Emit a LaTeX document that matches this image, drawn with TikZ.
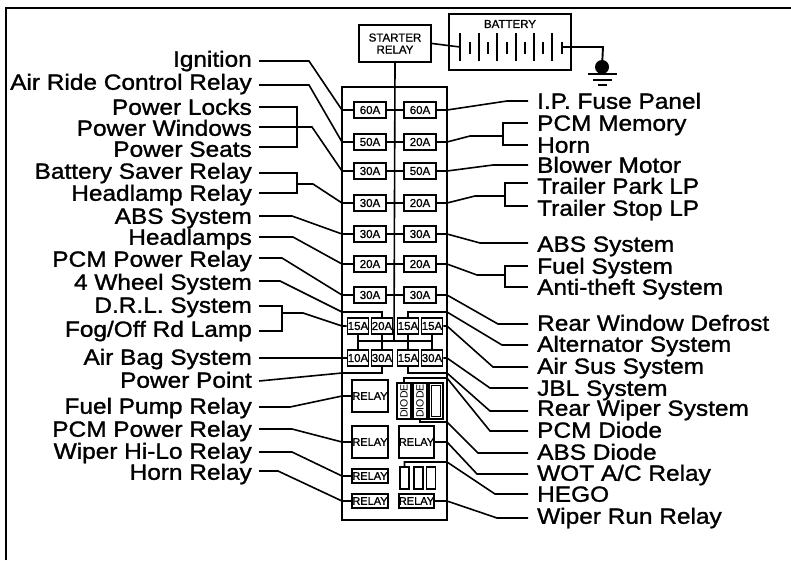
\documentclass[tikz,border=0pt]{standalone}
\usepackage{fontspec}
\setmainfont{Liberation Sans}
\newfontfamily\labelfont[FakeBold=1.3,FakeStretch=1.11]{Liberation Sans}
\newfontfamily\boxfont[FakeBold=1]{Liberation Sans}
\begin{document}
\begin{tikzpicture}[x=1pt,y=-1pt,line cap=butt,line join=miter,
	wire/.style={line width=1.6pt},
	boxline/.style={draw,line width=2.2pt,inner sep=0pt},
	llabel/.style={anchor=east,inner xsep=7pt,inner ysep=0pt,text height=17.5pt,text depth=4pt,font=\labelfont\fontsize{22}{24}\selectfont},
	rlabel/.style={anchor=west,inner xsep=9pt,inner ysep=0pt,text height=17.5pt,text depth=4pt,font=\labelfont\fontsize{22}{24}\selectfont},
	fuse/.style={boxline,minimum width=32pt,minimum height=16pt,font=\boxfont\fontsize{11.5}{12}\selectfont},
	minifuse/.style={boxline,line width=1.7pt,minimum width=21pt,minimum height=16pt,font=\boxfont\fontsize{11.5}{12}\selectfont},
	relay/.style={boxline,line width=1.5pt,font=\boxfont\fontsize{11}{12}\selectfont},
	diode/.style={boxline,line width=1.5pt,minimum width=14pt,minimum height=36pt},
	slot/.style={boxline,line width=1.5pt,minimum height=22pt}]
\useasboundingbox (0,0) rectangle (791,560);
% outer frame
\draw[line width=1.7pt] (6,560)--(6,8)--(791,8);
% battery side
\node[boxline,minimum width=72pt,minimum height=37pt,align=center,font=\boxfont\fontsize{11.5}{13}\selectfont] (starter) at (395,43.5) {STARTER\\[-1pt]RELAY};
\node[boxline,minimum width=122pt,minimum height=56pt] (battery) at (510,42) {};
\node[inner sep=0pt,font=\boxfont\fontsize{11.5}{13}\selectfont] (batterytext) at (510,24) {BATTERY};
\foreach\x in {460,479,497,516,534,552}{\draw[wire] (\x,33)--(\x,61);}
\foreach\x in {470,488,507,525,543,562}{\draw[wire] (\x,42)--(\x,54);}
\coordinate (cellA) at (460,47);
\coordinate (cellB) at (562,47);
\fill (602,67) coordinate (gnd) circle (7);
\draw[wire] (starter.east)--(cellA);
\draw[line width=1.9pt] (cellB)--(603,47)--(gnd);
\draw[wire] (588,74)--(617,74) (593,80)--(612,80) (598,85)--(607,85);
% fuse box
\node[boxline,minimum width=105pt,minimum height=433pt] (panel) at (394.5,303.5) {};
\draw[wire] (starter.south)--(394,341);
\foreach\i/\y/\a/\b in {1/110/60A/60A,2/142/50A/20A,3/171/30A/50A,4/203/30A/20A,5/234/30A/30A,6/264/20A/20A,7/295/30A/30A}{
	\node[fuse] (f\i l) at (370,\y) {\a};
	\node[fuse] (f\i r) at (420,\y) {\b};
	\draw[wire] (342,\y)--(f\i l.west) (f\i l.east)--(f\i r.west);
	\draw[wire] (f\i r.east)--(447,\y);
}
\foreach\n/\x/\y/\t in {ma/358/326/15A,mb/382/326/20A,mc/408/326/15A,md/432/326/15A,me/358/358/10A,mf/382/358/30A,mg/408/358/15A,mh/432/358/30A}{
	\node[minifuse] (\n) at (\x,\y) {\t};
}
\foreach\a/\b in {ma/me,mb/mf,mc/mg,md/mh}{\draw[wire] (\a.south)--(\b.north);}
\draw[wire] (ma.south |- 0,341)--(md.south |- 0,341);
% relays
\node[relay,minimum width=36pt,minimum height=32pt] (rela) at (370,396) {RELAY};
\node[relay,minimum width=36pt,minimum height=32pt] (relb) at (370,442) {RELAY};
\node[relay,minimum width=35pt,minimum height=32pt] (relc) at (416.5,442) {RELAY};
\node[relay,minimum width=36pt,minimum height=14pt] (reld) at (370,476) {RELAY};
\node[relay,minimum width=36pt,minimum height=14pt] (rele) at (370,501) {RELAY};
\node[relay,minimum width=35pt,minimum height=14pt] (relf) at (416.5,501) {RELAY};
\node[diode] (diodea) at (404,401) {};
\node[rotate=90,inner sep=0pt,font=\fontsize{10.5}{11}\selectfont] (diodeatext) at (404,401) {DIODE};
\node[diode] (diodeb) at (420,401) {};
\node[rotate=90,inner sep=0pt,font=\fontsize{10.5}{11}\selectfont] (diodebtext) at (420,401) {DIODE};
\node[diode] (spare) at (436,401) {};
\node[draw,line width=.5pt,inner sep=0pt,minimum width=9pt,minimum height=31pt] (spareinner) at (436,401) {};
\foreach\n/\x in {sa/404.5,sb/418.5,sc/431}{\node[slot,minimum width=9pt] (\n) at (\x,478) {};}
% labels on the left
\foreach\n/\y/\t in {lign/60/Ignition,lair/83/Air Ride Control Relay,llock/108/Power Locks,lwin/129/Power Windows,lseat/150/Power Seats,lbatt/172/Battery Saver Relay,lhead/194/Headlamp Relay,labs/217/ABS System,llamp/238/Headlamps,lpcm/260/PCM Power Relay,lfour/283/4 Wheel System,ldrl/306/D.R.L. System,lfog/330/{Fog/Off Rd Lamp},lbag/358/Air Bag System,lpoint/381/Power Point,lfuel/407/Fuel Pump Relay,lpow/430/PCM Power Relay,lwipe/452/Wiper Hi-Lo Relay,lhorn/473/Horn Relay}{
	\node[llabel] (\n) at (259,\y) {\t};
}
% labels on the right
\foreach\n/\y/\t in {rip/102/I.P. Fuse Panel,rmem/124/PCM Memory,rhorn/146/Horn,rblow/166/Blower Motor,rpark/187/Trailer Park LP,rstop/209/Trailer Stop LP,rabs/245/ABS System,rfuel/267/Fuel System,rtheft/288/Anti-theft System,rdef/324/Rear Window Defrost,ralt/345/Alternator System,rsus/367/Air Sus System,rjbl/389/JBL System,rrear/409/Rear Wiper System,rpcm/431/PCM Diode,rdio/453/ABS Diode,rwot/474/{WOT A/C Relay},rhego/495/HEGO,rrun/517/Wiper Run Relay}{
	\node[rlabel] (\n) at (528,\y) {\t};
}
% wires left
\foreach\a/\wy/\kx/\ky/\b in {lign/61/309/110/f1l,lair/85/309/142/f2l,lwin/127/312/171/f3l,labs/216/292/234/f5l,llamp/237/293/264/f6l,lpcm/258/282/295/f7l,lfuel/407/290/396/rela,lpow/429/292/442/relb,lwipe/452/292/476/reld,lhorn/471/278/501/rele}{
	\draw[wire] (\a.east |- 0,\wy)--(\kx,\wy)--(342,\ky)--(\b.west);
}
\draw[wire] (llock.east |- 0,107)--(297,107)--(297,147)--(lseat.east |- 0,147);
\draw[wire] (lbatt.east |- 0,173)--(297,173)--(297,193)--(lhead.east |- 0,193);
\draw[wire] (297,184)--(313,184)--(342,203);
\draw[wire] (ldrl.east |- 0,306)--(282,306)--(282,331)--(lfog.east |- 0,331);
\draw[wire] (282,313)--(303,313)--(342,326)--(ma.west);
\draw[wire] (lfour.east |- 0,281)--(280,281)--(342,312)--(382,312)--(mb.north);
\draw[wire] (lbag.east)--(me.west);
\draw[wire] (lpoint.east)--(342,373)--(382,373)--(mf.south);
% wires right
\foreach\a/\ky/\kx/\wy/\b in {f1r/110/507/101/rip,f3r/171/493/165/rblow,f5r/234/480/243/rabs,f7r/295/498/324/rdef,md/326/493/367/rsus,mh/358/490/388/rjbl,relc/442/477/474/rwot,relf/501/497/518/rrun}{
	\draw[wire] (\a.east)--(447,\ky)--(\kx,\wy)--(\b.west |- 0,\wy);
}
\draw[wire] (rmem.west |- 0,123)--(503,123)--(503,145)--(rhorn.west |- 0,145);
\draw[wire] (447,142)--(470,136)--(503,136);
\draw[wire] (rpark.west |- 0,183)--(505,183)--(505,206)--(rstop.west |- 0,206);
\draw[wire] (447,203)--(475,196)--(505,196);
\draw[wire] (rfuel.west |- 0,266)--(505,266)--(505,287)--(rtheft.west |- 0,287);
\draw[wire] (447,264)--(477,275)--(505,275);
\draw[wire] (mc.north)--(408,312)--(447,312)--(502,345)--(ralt.west |- 0,345);
\draw[wire] (mg.south)--(408,373)--(447,373)--(490,411)--(rrear.west |- 0,411);
\draw[wire] (diodea.north)--(404,378)--(447,378)--(490,431)--(rpcm.west |- 0,431);
\draw[wire] (diodeb.south)--(420,422)--(447,422)--(478,453)--(rdio.west |- 0,453);
\draw[wire] (sa.north)--(404.5,462)--(447,462)--(495,494)--(rhego.west |- 0,494);
\end{tikzpicture}
\end{document}
